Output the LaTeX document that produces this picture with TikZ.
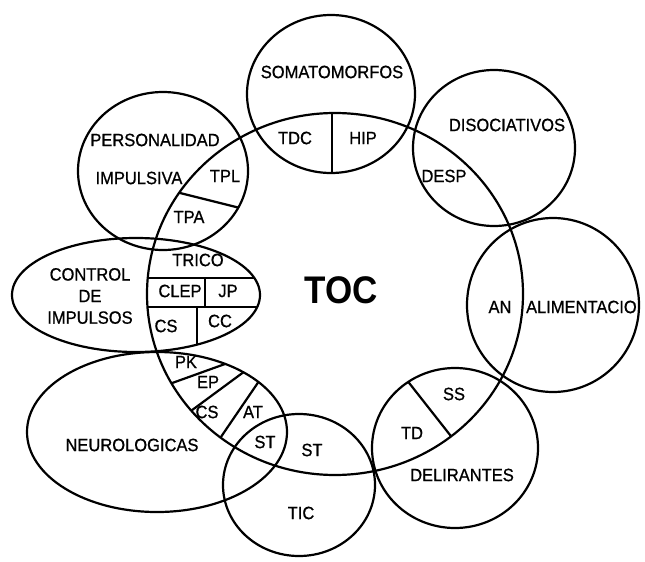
\documentclass[tikz,border=0pt]{standalone}
\usepackage{fontspec}
\setmainfont{Liberation Sans}
\newfontfamily\lblfont[FakeBold=0.8]{Liberation Sans}

\begin{document}
\begin{tikzpicture}[x=1pt, y=-1pt, line width=2.2pt,
  lbl/.style={font=\lblfont\fontsize{16.5}{20}\selectfont, inner sep=0pt, yscale=1.08},
  big/.style={font=\fontsize{35}{38}\selectfont\bfseries, inner sep=0pt, yscale=1.1}]

\useasboundingbox (0,0) rectangle (645,562);

% centres of the sets
\coordinate (toc) at (335,294);
\coordinate (soma) at (331,94);
\coordinate (diso) at (494,148);
\coordinate (alim) at (553,305);
\coordinate (deli) at (455,448);
\coordinate (tic) at (299,485);
\coordinate (neuro) at (157,432);
\coordinate (ctrl) at (136,295);
\coordinate (pers) at (163,171);

\draw (toc) ellipse [x radius=188, y radius=181];
\draw (soma) ellipse [x radius=84, y radius=79];
\draw (diso) ellipse [x radius=81, y radius=78];
\draw (alim) ellipse [x radius=86, y radius=87];
\draw (deli) ellipse [x radius=83, y radius=80];
\draw (tic) ellipse [x radius=76, y radius=71];
\draw (neuro) ellipse [x radius=130, y radius=80];
\draw (ctrl) ellipse [x radius=124, y radius=57];
\draw (pers) ellipse [x radius=85, y radius=79];

% dividers inside the overlaps
\begin{scope}
  \clip (toc) ellipse [x radius=188, y radius=181];
  \clip (soma) ellipse [x radius=84, y radius=79];
  \draw (332,100) -- (332,200);
\end{scope}
\begin{scope}
  \clip (toc) ellipse [x radius=188, y radius=181];
  \clip (pers) ellipse [x radius=85, y radius=79];
  \draw (160,188) -- (260,213);
\end{scope}
\begin{scope}
  \clip (toc) ellipse [x radius=188, y radius=181];
  \clip (ctrl) ellipse [x radius=124, y radius=57];
  \draw (130,278) -- (270,278);
  \draw (130,307) -- (270,307);
  \draw (205,278) -- (205,307);
  \draw (197,307) -- (197,360);
\end{scope}
\begin{scope}
  \clip (toc) ellipse [x radius=188, y radius=181];
  \clip (neuro) ellipse [x radius=130, y radius=80];
  \draw (150,391) -- (250,355);
  \draw (180,419) -- (260,360);
  \draw (210,453) -- (270,365);
\end{scope}
\begin{scope}
  \clip (toc) ellipse [x radius=188, y radius=181];
  \clip (deli) ellipse [x radius=83, y radius=80];
  \draw (395,365) -- (465,454);
\end{scope}

% labels
\node[big] (tocl) at (341,290) {TOC};

\node[lbl] (somal) at (332,72) {SOMATOMORFOS};
\node[lbl] (tdc) at (295,138) {TDC};
\node[lbl] (hip) at (363,138) {HIP};

\node[lbl] (disol) at (507,125) {DISOCIATIVOS};
\node[lbl] (desp) at (444,176) {DESP};

\node[lbl] (an) at (500,307) {AN};
\node[lbl, anchor=west] (aliml) at (525,307) {ALIMENTACIO};

\node[lbl] (ss) at (454,394) {SS};
\node[lbl] (td) at (412,433) {TD};
\node[lbl] (delil) at (462,475) {DELIRANTES};

\node[lbl] (ticl) at (301,513) {TIC};
\node[lbl] (st1) at (312,450) {ST};
\node[lbl] (st2) at (265,442) {ST};
\node[lbl] (at) at (253,412) {AT};
\node[lbl] (cs1) at (207,412) {CS};
\node[lbl] (ep) at (208,382) {EP};
\node[lbl] (pk) at (186,362) {PK};
\node[lbl] (neurol) at (132,445) {NEUROLOGICAS};

\node[lbl, align=center] (ctrll) at (90,296) {CONTROL\\DE\\IMPULSOS};
\node[lbl] (trico) at (198,260) {TRICO};
\node[lbl] (clep) at (180,291) {CLEP};
\node[lbl] (jp) at (228,291) {JP};
\node[lbl] (cs2) at (166,326) {CS};
\node[lbl] (cc) at (220,321) {CC};

\node[lbl] (persl) at (155,140) {PERSONALIDAD};
\node[lbl] (impl) at (139,178) {IMPULSIVA};
\node[lbl] (tpl) at (225,176) {TPL};
\node[lbl] (tpa) at (189,217) {TPA};

\end{tikzpicture}
\end{document}
